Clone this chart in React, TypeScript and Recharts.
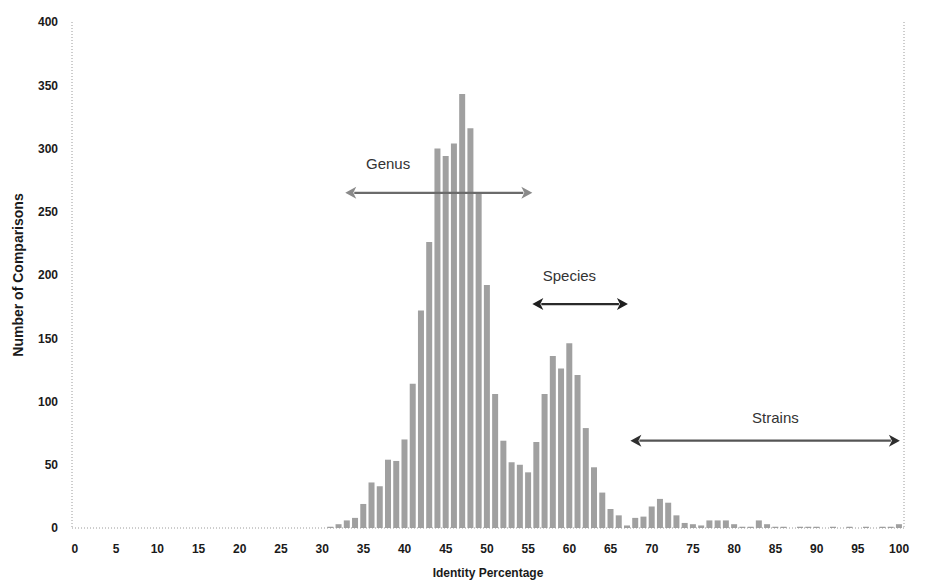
import React from "react";
import {
  ComposedChart,
  Bar,
  XAxis,
  YAxis,
  ReferenceLine,
  ReferenceDot,
  Label,
} from "recharts";

// Identity percentage bins (0..100) and number of comparisons in each
const identity: number[] = Array.from({ length: 101 }, (_, i) => i);
const comparisons: number[] = [
  0, 0, 0, 0, 0, 0, 0, 0, 0, 0,
  0, 0, 0, 0, 0, 0, 0, 0, 0, 0,
  0, 0, 0, 0, 0, 0, 0, 0, 0, 0,
  0, 1, 3, 6, 8, 19, 36, 33, 54, 53,
  70, 114, 172, 226, 300, 294, 304, 343, 316, 265,
  192, 106, 69, 52, 50, 44, 68, 106, 136, 126,
  146, 121, 79, 48, 28, 15, 10, 2, 8, 9,
  17, 23, 20, 10, 4, 3, 2, 6, 6, 6,
  3, 1, 1, 6, 3, 1, 1, 0, 1, 1,
  1, 0, 1, 0, 1, 0, 1, 0, 1, 1,
  3,
];

const xTicks: number[] = [0, 5, 10, 15, 20, 25, 30, 35, 40, 45, 50, 55, 60, 65, 70, 75, 80, 85, 90, 95, 100];
const leftTicks: number[] = [0, 50, 100, 150, 200, 250, 300, 350, 400];
const rightTicks: number[] = [0, 10, 20, 30, 40, 50, 60, 70, 80, 90, 100];

// Range annotations
const rangeNames: string[] = ["Genus", "Species", "Strains"];
const rangeStart: number[] = [32.8, 55.5, 67.4];
const rangeEnd: number[] = [55.5, 67.1, 100.1];
const rangeLevel: number[] = [265, 177, 69];
const rangeLabelX: number[] = [38, 60, 85];
const rangeLabelY: number[] = [288, 200, 87];
const rangeLineColor: string[] = ["#6b6b6b", "#2a2a2a", "#555555"];
const rangeHeadColor: string[] = ["#8a8a8a", "#1e1e1e", "#2e2e2e"];

const data = identity.map((x, i) => ({ x, count: comparisons[i] }));

const FONT = "'Liberation Sans', Arial, sans-serif";

const makeArrow = (lineColor: string, headColor: string) => (props: any) => {
  const { x1, y1, x2, y2 } = props;
  const hl = 11;
  const hw = 6;
  return (
    <g>
      <line x1={x1 + hl - 2} y1={y1} x2={x2 - hl + 2} y2={y2} stroke={lineColor} strokeWidth={2.2} />
      <polygon
        points={`${x1},${y1} ${x1 + hl},${y1 - hw} ${x1 + hl - 3},${y1} ${x1 + hl},${y1 + hw}`}
        fill={headColor}
      />
      <polygon
        points={`${x2},${y2} ${x2 - hl},${y2 - hw} ${x2 - hl + 3},${y2} ${x2 - hl},${y2 + hw}`}
        fill={headColor}
      />
    </g>
  );
};

const makeText = (text: string) => (props: any) => {
  const { cx, cy } = props;
  return (
    <text
      x={cx}
      y={cy}
      textAnchor="middle"
      dominantBaseline="central"
      fontFamily={FONT}
      fontSize={15}
      fill="#333"
    >
      {text}
    </text>
  );
};

const tickStyle = { fontFamily: FONT, fontSize: 12, fontWeight: 700, fill: "#1a1a1a" };
const dotted = { stroke: "#9a9a9a", strokeDasharray: "1 2", strokeWidth: 1 };

export default function App() {
  return (
    <div style={{ position: "absolute", left: 0, top: 0, background: "#fff" }}>
      <ComposedChart
        width={944}
        height={582}
        data={data}
        margin={{ top: 22, right: 0, bottom: 0, left: 12 }}
        barCategoryGap={0}
      >
        <XAxis
          dataKey="x"
          type="number"
          domain={[-0.36, 100.6]}
          ticks={xTicks}
          allowDataOverflow
          height={54}
          tickLine={false}
          tickSize={6}
          tickMargin={10}
          axisLine={dotted}
          tick={tickStyle}
        >
          <Label
            value="Identity Percentage"
            position="insideBottom"
            offset={5}
            style={{ fontFamily: FONT, fontSize: 12, fontWeight: 700, fill: "#1a1a1a" }}
          />
        </XAxis>
        <YAxis
          yAxisId="left"
          domain={[0, 400]}
          ticks={leftTicks}
          width={60}
          tickLine={false}
          tickSize={6}
          tickMargin={8}
          axisLine={dotted}
          tick={tickStyle}
        >
          <Label
            value="Number of Comparisons"
            angle={-90}
            position="insideLeft"
            offset={6}
            style={{ textAnchor: "middle", fontFamily: FONT, fontSize: 14, fontWeight: 700, fill: "#1a1a1a" }}
          />
        </YAxis>
        <YAxis
          yAxisId="right"
          orientation="right"
          domain={[0, 100]}
          ticks={rightTicks}
          width={40}
          tickLine={false}
          tickSize={6}
          tickMargin={3}
          axisLine={dotted}
          tick={tickStyle}
        />
        <Bar
          yAxisId="left"
          dataKey="count"
          fill="#a0a0a0"
          barSize={6}
          isAnimationActive={false}
        />
        {rangeNames.map((name, i) => (
          <ReferenceLine
            key={`line-${name}`}
            yAxisId="left"
            segment={[
              { x: rangeStart[i], y: rangeLevel[i] },
              { x: rangeEnd[i], y: rangeLevel[i] },
            ]}
            ifOverflow="visible"
            shape={makeArrow(rangeLineColor[i], rangeHeadColor[i])}
          />
        ))}
        {rangeNames.map((name, i) => (
          <ReferenceDot
            key={`label-${name}`}
            yAxisId="left"
            x={rangeLabelX[i]}
            y={rangeLabelY[i]}
            r={0}
            ifOverflow="visible"
            shape={makeText(name)}
          />
        ))}
      </ComposedChart>
    </div>
  );
}
